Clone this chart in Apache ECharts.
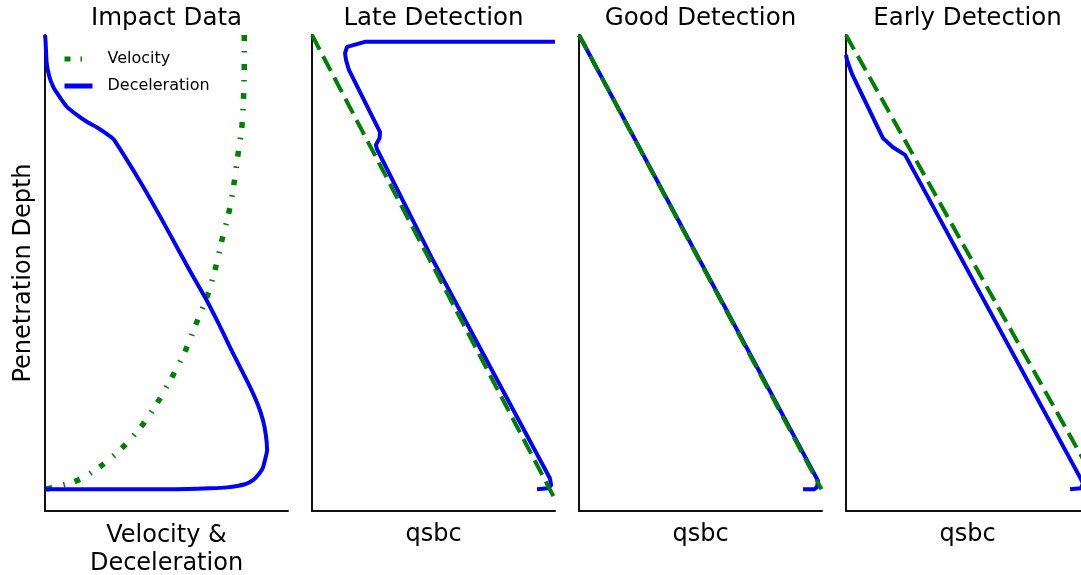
<!DOCTYPE html>
<html>
<head>
<meta charset="utf-8">
<script src="https://cdn.jsdelivr.net/npm/echarts@6/dist/echarts.min.js"></script>
<style>
html,body{margin:0;padding:0;background:#fff;}
#chart{width:1081px;height:575px;}
</style>
</head>
<body>
<div id="chart"></div>
<script>
// ---- Data (x in % of axis width, depth in % of full penetration) ----
const panelTitles = ['Impact Data', 'Late Detection', 'Good Detection', 'Early Detection'];
const xAxisNames = ['Velocity &\nDeceleration', 'qsbc', 'qsbc', 'qsbc'];
const yAxisName = 'Penetration Depth';
const legendNames = ['Velocity', 'Deceleration'];

// Panel 1: Impact Data
const impactVelDepth = [0, 6.8, 13.7, 20.3, 26.4, 32.6, 39.0, 45.2, 51.2, 57.3, 63.3, 69.2, 74.9, 80.4, 85.7, 90.5, 94.7, 98.0, 100];
const impactVelValue = [82.0, 82.0, 81.7, 81.0, 79.4, 77.8, 75.7, 72.8, 70.2, 66.9, 62.4, 58.0, 52.7, 46.9, 40.3, 32.5, 23.5, 13.6, 0.5];
const impactDecDepth = [0, 1.1, 6.2, 9.2, 11.4, 13.2, 15.8, 17.6, 19.1, 20.3, 21.3, 22.3, 23.0, 32.6, 42.3, 51.8, 58.4, 63.5, 68.7, 77.5, 81.5, 84.8, 88.1, 91.4, 93.6, 95.2, 96.3, 98.0, 98.9, 99.6, 99.8, 100, 100, 100];
const impactDecValue = [0, 0.2, 0.7, 1.8, 3.4, 5.5, 9.0, 13.1, 17.2, 21.3, 24.1, 26.8, 28.3, 39.5, 49.8, 59.5, 66.5, 71.4, 76.1, 84.4, 87.7, 89.7, 90.9, 91.4, 90.5, 89.7, 88.5, 85.6, 82.3, 74.9, 67.9, 52.7, 30.9, 0];

// Panel 2: Late Detection
const lateQsbcDepth = [0, 101.8];
const lateQsbcValue = [0, 99.6];
const lateDecDepth = [1.5, 1.5, 2.6, 4.0, 5.5, 7.7, 21.4, 22.7, 24.2, 25.1, 49.6, 97.6, 99.1, 99.8, 100];
const lateDecValue = [100, 21.8, 14.4, 13.6, 14.0, 15.2, 28.0, 27.8, 26.3, 26.7, 49.8, 97.9, 98.4, 97.1, 92.6];

// Panel 3: Good Detection
const goodQsbcDepth = [0, 100];
const goodQsbcValue = [0, 99.8];
const goodDecDepth = [0, 98.2, 99.6, 100, 100];
const goodDecValue = [0, 98.4, 97.9, 96.7, 92.2];

// Panel 4: Early Detection
const earlyQsbcDepth = [0, 100];
const earlyQsbcValue = [0, 104.5];
const earlyDecDepth = [4.4, 5.5, 8.6, 22.7, 24.7, 26.4, 97.4, 98.7, 99.8, 100];
const earlyDecValue = [0, 0.4, 2.5, 15.2, 19.3, 24.3, 96.3, 97.5, 96.7, 92.2];

// ---- Build ----
function zip(xs, ds) { return xs.map((v, i) => [v, ds[i]]); }

const FONT = 'DejaVu Sans';
const GREEN = '#008000';
const BLUE = '#0000ff';
const lefts = [45, 312, 579, 846];
const gridW = 243;

const grids = lefts.map(l => ({ left: l, top: 35, width: gridW, height: 476, containLabel: false, outerBoundsMode: 'none' }));

const xAxes = lefts.map((l, i) => ({
  type: 'value', gridIndex: i, min: 0, max: 100,
  axisLine: { show: true, onZero: false, lineStyle: { color: '#111', width: 2 } },
  axisTick: { show: false }, axisLabel: { show: false }, splitLine: { show: false },
  name: xAxisNames[i], nameLocation: 'middle', nameGap: i === 0 ? 11 : 10,
  nameTextStyle: { fontFamily: FONT, fontSize: 24, color: '#000', lineHeight: 28 }
}));

const yAxes = lefts.map((l, i) => ({
  type: 'value', gridIndex: i, min: 0, max: 104.8, inverse: true,
  axisLine: { show: true, onZero: false, lineStyle: { color: '#111', width: 2 } },
  axisTick: { show: false }, axisLabel: { show: false }, splitLine: { show: false },
  name: i === 0 ? yAxisName : '', nameLocation: 'middle', nameGap: 7,
  nameTextStyle: { fontFamily: FONT, fontSize: 24, color: '#000', lineHeight: 28 }
}));

function lineSeries(name, idx, data, color, type, width) {
  return {
    name: name, type: 'line', xAxisIndex: idx, yAxisIndex: idx,
    data: data, showSymbol: false, symbol: 'none', clip: true, animation: false,
    lineStyle: { color: color, width: width || 4, type: type, join: 'round' },
    itemStyle: { color: color }
  };
}

const velDash = [6, 10, 1.5, 11.5];
const qDash = [16.5, 7.5];

const series = [
  Object.assign(lineSeries(legendNames[0], 0, zip(impactVelValue, impactVelDepth), GREEN, velDash, 5.5), { smooth: 0.3 }),
  Object.assign(lineSeries(legendNames[1], 0, zip(impactDecValue, impactDecDepth), BLUE, 'solid'), { smooth: 0.2 }),
  lineSeries('Late deceleration', 1, zip(lateDecValue, lateDecDepth), BLUE, 'solid'),
  lineSeries('Late qsbc', 1, zip(lateQsbcValue, lateQsbcDepth), GREEN, qDash),
  lineSeries('Good deceleration', 2, zip(goodDecValue, goodDecDepth), BLUE, 'solid'),
  lineSeries('Good qsbc', 2, zip(goodQsbcValue, goodQsbcDepth), GREEN, qDash),
  lineSeries('Early deceleration', 3, zip(earlyDecValue, earlyDecDepth), BLUE, 'solid'),
  lineSeries('Early qsbc', 3, zip(earlyQsbcValue, earlyQsbcDepth), GREEN, qDash)
];

const graphics = panelTitles.map((t, i) => ({
  type: 'text', x: lefts[i] + gridW / 2, y: 19,
  style: { text: t, font: '24.5px "' + FONT + '"', fill: '#000', textAlign: 'center', textVerticalAlign: 'middle' }
}));

const chart = echarts.init(document.getElementById('chart'), null, { renderer: 'canvas' });
chart.setOption({
  backgroundColor: '#fff',
  animation: false,
  grid: grids,
  xAxis: xAxes,
  yAxis: yAxes,
  legend: {
    data: legendNames, orient: 'vertical', left: 57, top: 46,
    itemWidth: 28, itemHeight: 14, itemGap: 11,
    itemStyle: { opacity: 0 },
    lineStyle: { width: 5 },
    textStyle: { fontFamily: FONT, fontSize: 16, color: '#000', padding: [0, 0, 0, 10] }
  },
  graphic: graphics,
  series: series
});
</script>
</body>
</html>
